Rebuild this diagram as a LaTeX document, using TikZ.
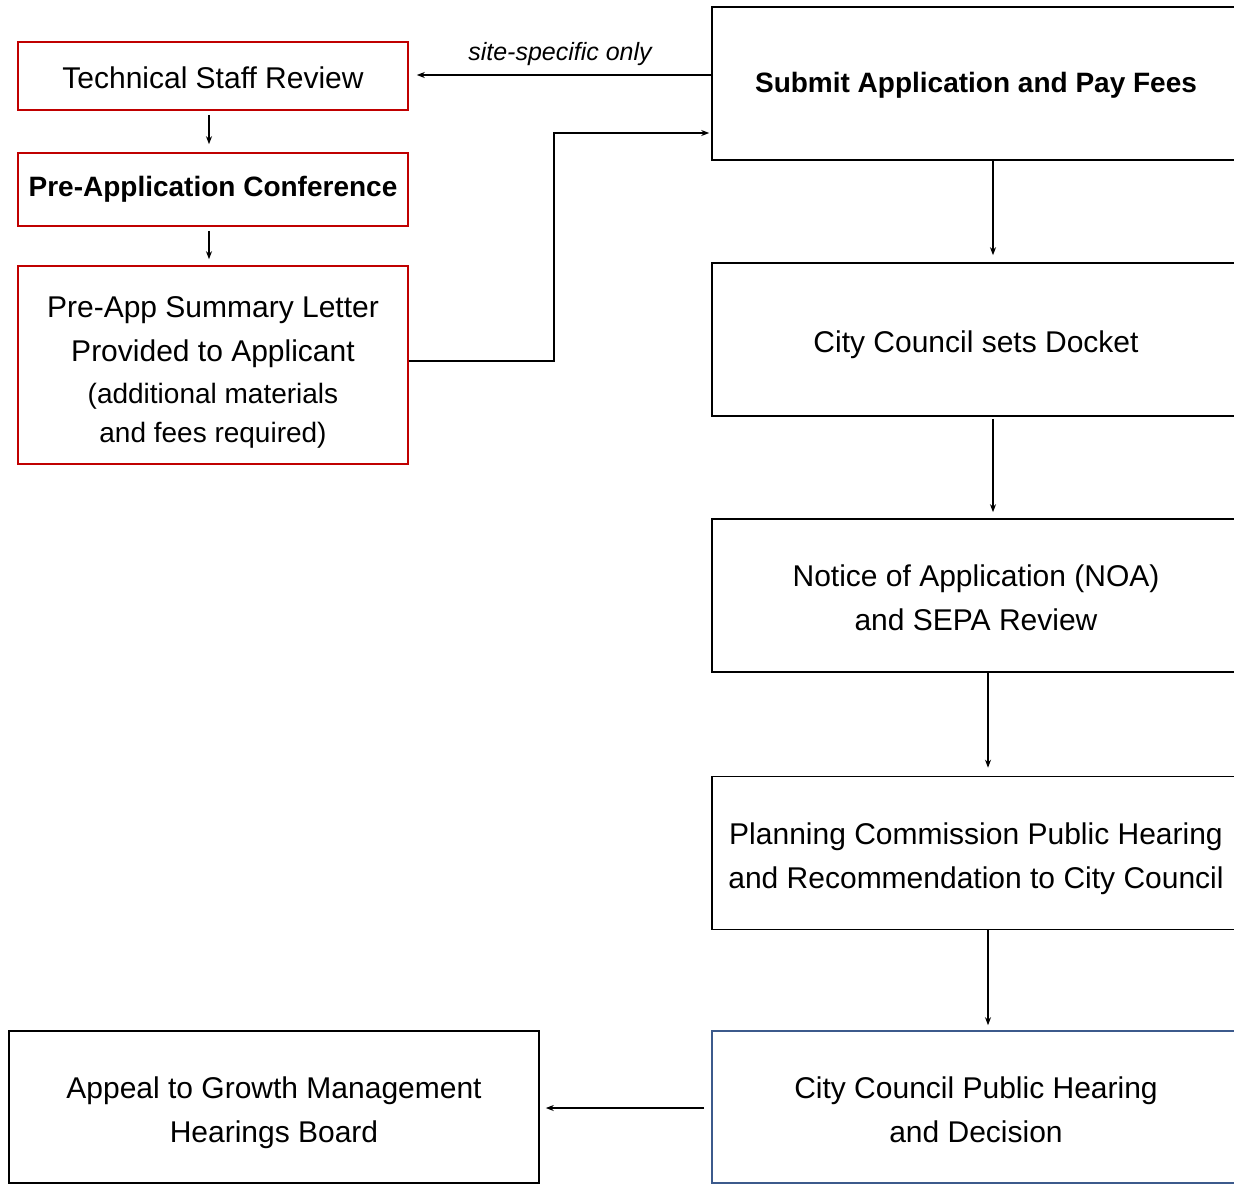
\documentclass[tikz,border=0pt]{standalone}
\usepackage{fontspec}
\setmainfont{Liberation Sans}
\usetikzlibrary{arrows.meta}
\definecolor{boxred}{RGB}{192,0,0}
\definecolor{boxblue}{RGB}{60,90,140}
\newcommand{\toppad}[1]{\rule{0pt}{#1}}
\begin{document}
\begin{tikzpicture}[x=1pt,y=-1pt,
  box/.style={draw, line width=1.6pt, rectangle, inner sep=0pt, align=center,
              font=\fontsize{30}{44}\selectfont},
  redbox/.style={box, draw=boxred, minimum width=390pt},
  rbox/.style={box, minimum width=528pt, minimum height=153pt},
  arr/.style={-{Stealth[length=8pt,width=6pt]}, line width=1.3pt},
]
\useasboundingbox[fill=white] (0,0) rectangle (1234,1184);

% left column
\node[redbox, minimum height=68pt, text height=26pt] (tsr) at (213,76) {Technical Staff Review};
\node[redbox, minimum height=73pt, font=\fontsize{28}{34}\bfseries] (pac) at (213,189.5) {Pre-Application Conference};
\node[redbox, minimum height=198pt] (pasl) at (213,365)
  {\toppad{35pt}Pre-App Summary Letter\\Provided to Applicant\\[-2pt]{\fontsize{28}{39}\selectfont(additional materials}\\[-5pt]{\fontsize{28}{39}\selectfont and fees required)}};

% right column
\node[rbox, font=\fontsize{28}{34}\bfseries, text height=24.5pt] (sub) at (976,83.5) {Submit Application and Pay Fees};
\node[rbox, text height=32pt] (dock) at (976,339.5) {City Council sets Docket};
\node[rbox] (noa) at (976,595.5) {\toppad{26pt}Notice of Application (NOA)\\and SEPA Review};
\node[rbox] (pc) at (976,853) {\toppad{34pt}Planning Commission Public Hearing\\and Recommendation to City Council};
\node[rbox, draw=boxblue, minimum height=152pt] (cc) at (976,1107) {\toppad{28pt}City Council Public Hearing\\and Decision};
\node[box, minimum width=530pt, minimum height=152pt] (app) at (274,1107) {\toppad{34pt}Appeal to Growth Management\\Hearings Board};

% connectors
\draw[arr, shorten <=4pt, shorten >=8pt] ([xshift=-4pt]tsr.south) -- ([xshift=-4pt]pac.north);
\draw[arr, shorten <=4pt, shorten >=6pt] ([xshift=-4pt]pac.south) -- ([xshift=-4pt]pasl.north);

\draw[arr, shorten >=8pt] (sub.west |- 0,75) -- node[above=5pt, font=\fontsize{25}{30}\itshape] (lbl) {site-specific only} (tsr.east |- 0,75);

\coordinate (k1) at (554,361);
\coordinate (k2) at (554,133);
\draw[arr, shorten >=2pt] (pasl.east |- k1) -- (k1) -- (k2) -- (sub.west |- k2);

\draw[arr, shorten >=7pt] ([xshift=17pt]sub.south) -- ([xshift=17pt]dock.north);
\draw[arr, shorten <=2pt, shorten >=6pt] ([xshift=17pt]dock.south) -- ([xshift=17pt]noa.north);
\draw[arr, shorten >=8pt] ([xshift=12pt]noa.south) -- ([xshift=12pt]pc.north);
\draw[arr, shorten >=5pt] ([xshift=12pt]pc.south) -- ([xshift=12pt]cc.north);

\draw[arr, shorten <=7pt, shorten >=6pt] (cc.west |- 0,1108) -- (app.east |- 0,1108);
\end{tikzpicture}
\end{document}
